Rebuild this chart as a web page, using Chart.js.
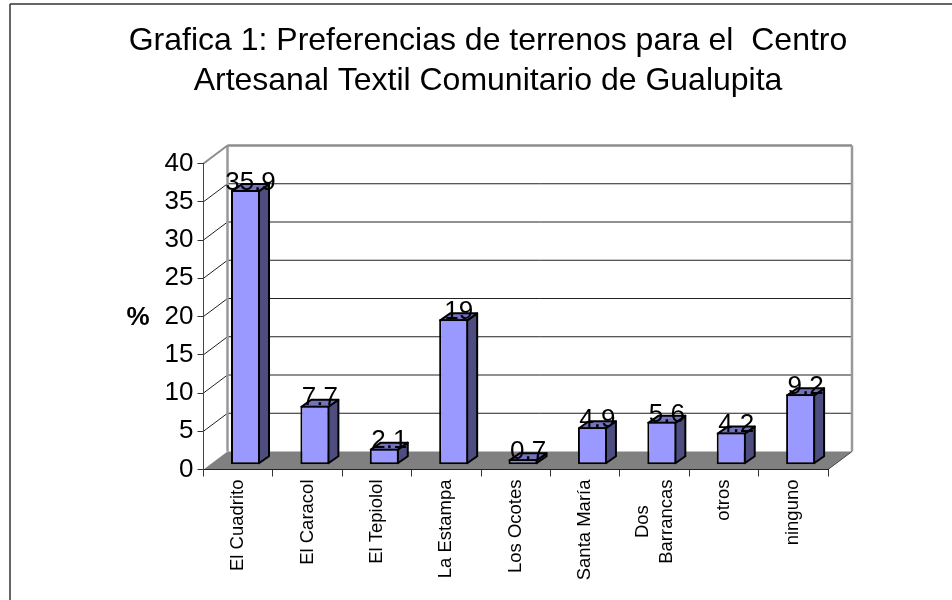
<!DOCTYPE html>
<html>
<head>
<meta charset="utf-8">
<style>
  body { margin: 0; background: #fff; }
  canvas { display: block; }
</style>
<script src="https://cdn.jsdelivr.net/npm/chart.js@4/dist/chart.umd.js"></script>
</head>
<body>
<canvas id="my-chart" width="952" height="600"></canvas>
<script>
'use strict';

/* DATA */
let titleLines = [
  'Grafica 1: Preferencias de terrenos para el  Centro',
  'Artesanal Textil Comunitario de Gualupita',
];
let categories = [
  'El Cuadrito',
  'El Caracol',
  'El Tepiolol',
  'La Estampa',
  'Los Ocotes',
  'Santa María',
  ['Dos', 'Barrancas'],
  'otros',
  'ninguno',
];
let percentages = [35.9, 7.7, 2.1, 19, 0.7, 4.9, 5.6, 4.2, 9.2];
let axisTitle = '%';

/* 3D LOOK */
const FONT = '"Liberation Sans", Arial, sans-serif';
const WALL_DX = 24;
const WALL_DY = -18;
const BAR_DX = 7.3;
const BAR_DY = -4.8;
const BAR_DEPTH_X = 10;
const BAR_DEPTH_Y = -7;

function line(ctx, x1, y1, x2, y2, color, width) {
  ctx.strokeStyle = color;
  ctx.lineWidth = width;
  ctx.beginPath();
  ctx.moveTo(x1, y1);
  ctx.lineTo(x2, y2);
  ctx.stroke();
}

function polygon(ctx, points, fill) {
  ctx.fillStyle = fill;
  ctx.strokeStyle = '#000000';
  ctx.lineWidth = 2;
  ctx.lineJoin = 'round';
  ctx.beginPath();
  points.forEach((p, i) => (i ? ctx.lineTo(p[0], p[1]) : ctx.moveTo(p[0], p[1])));
  ctx.closePath();
  ctx.fill();
  ctx.stroke();
}

let wallsPlugin = {
  id: 'walls',
  beforeDraw(chart) {
    let ctx = chart.ctx;
    let { left, right, top, bottom } = chart.chartArea;
    let yScale = chart.scales.y;
    ctx.save();

    // outer frame, only left and top show in the picture
    line(ctx, 10, 600, 10, 4, '#333333', 1.5);
    line(ctx, 10, 4, 952, 4, '#333333', 1.5);

    // back wall grid lines and slants on the side wall
    yScale.ticks.forEach((tick) => {
      let y = yScale.getPixelForValue(tick.value);
      if (tick.value > 0 && tick.value < 40) {
        line(ctx, left, y, left + WALL_DX, y + WALL_DY, '#222222', 1);
        line(ctx, left + WALL_DX, y + WALL_DY, right + WALL_DX, y + WALL_DY, '#222222', 1);
      }
    });

    // floor
    ctx.fillStyle = '#808080';
    ctx.beginPath();
    ctx.moveTo(left, bottom);
    ctx.lineTo(right, bottom);
    ctx.lineTo(right + WALL_DX, bottom + WALL_DY);
    ctx.lineTo(left + WALL_DX, bottom + WALL_DY);
    ctx.closePath();
    ctx.fill();

    // wall outline
    line(ctx, left + WALL_DX, bottom + WALL_DY, left + WALL_DX, top + WALL_DY, '#999999', 2.5);
    line(ctx, left, top, left + WALL_DX, top + WALL_DY, '#8c8c8c', 2);
    line(ctx, left + WALL_DX, top + WALL_DY, right + WALL_DX, top + WALL_DY, '#8c8c8c', 2.5);
    line(ctx, right + WALL_DX, top + WALL_DY, right + WALL_DX, bottom + WALL_DY, '#999999', 2.5);
    line(ctx, right, bottom, right + WALL_DX, bottom + WALL_DY, '#444444', 1);

    // title, the built-in one gets squeezed to the plot width
    ctx.fillStyle = '#000000';
    ctx.font = '32px ' + FONT;
    ctx.textAlign = 'center';
    ctx.textBaseline = 'middle';
    titleLines.forEach((text, i) => ctx.fillText(text, 488, 41 + i * 40));
    ctx.restore();
  },
  beforeDatasetsDraw(chart) {
    let ctx = chart.ctx;
    ctx.save();
    ctx.translate(BAR_DX, BAR_DY);
    chart.getDatasetMeta(0).data.forEach((bar) => {
      let { x, y, base, width } = bar.getProps(['x', 'y', 'base', 'width'], true);
      let l = x - width / 2 + 1;
      let r = x + width / 2 - 1;
      let t = y + 1;
      let b = base - 1;
      polygon(ctx, [[r, t], [r + BAR_DEPTH_X, t + BAR_DEPTH_Y], [r + BAR_DEPTH_X, b + BAR_DEPTH_Y], [r, b]], '#4d4d80');
      polygon(ctx, [[l, t], [l + BAR_DEPTH_X, t + BAR_DEPTH_Y], [r + BAR_DEPTH_X, t + BAR_DEPTH_Y], [r, t]], '#7373bf');
    });
    // front faces are drawn by the library right after this, shifted too
  },
  afterDatasetsDraw(chart) {
    let ctx = chart.ctx;
    ctx.restore();
    ctx.save();

    // value labels
    ctx.fillStyle = '#000000';
    ctx.font = '26px ' + FONT;
    ctx.textAlign = 'center';
    ctx.textBaseline = 'middle';
    chart.getDatasetMeta(0).data.forEach((bar, i) => {
      ctx.fillText(String(percentages[i]), bar.x + BAR_DX + 5, bar.y + BAR_DY + BAR_DEPTH_Y - 0.5);
    });

    // category labels, read bottom to top with the block top aligned
    let xScale = chart.scales.x;
    let labelTop = chart.chartArea.bottom + 10;
    ctx.font = '18.5px ' + FONT;
    ctx.textAlign = 'right';
    categories.forEach((label, i) => {
      let lines = [].concat(label);
      let longest = Math.max(...lines.map((s) => ctx.measureText(s).width));
      lines.forEach((s, j) => {
        let offset = (j - (lines.length - 1) / 2) * 24;
        ctx.save();
        ctx.translate(xScale.getPixelForTick(i) + offset, labelTop);
        ctx.rotate(-Math.PI / 2);
        ctx.fillText(s, -(longest - ctx.measureText(s).width) / 2, 0);
        ctx.restore();
      });
    });

    // axis title stays upright
    ctx.font = 'bold 26px ' + FONT;
    ctx.textAlign = 'center';
    ctx.fillText(axisTitle, 138, 318);
    ctx.restore();
  },
};

/* CHART */
function renderChart() {
  new Chart(document.getElementById('my-chart').getContext('2d'), {
    type: 'bar',
    data: {
      labels: categories,
      datasets: [
        {
          data: percentages,
          backgroundColor: '#9999ff',
          borderColor: '#000000',
          borderWidth: 2,
          borderSkipped: false,
          barPercentage: 0.418,
          categoryPercentage: 1,
        },
      ],
    },
    options: {
      responsive: false,
      animation: false,
      layout: {
        padding: { left: 0, right: 124, top: 163.5, bottom: 0 },
      },
      plugins: {
        legend: { display: false },
        tooltip: { enabled: false },
      },
      scales: {
        x: {
          afterFit(scale) {
            scale.height = 130.5;
          },
          border: { color: '#222222', width: 1 },
          grid: { offset: true, drawOnChartArea: false, tickLength: 7, color: '#333333' },
          ticks: { display: false },
        },
        y: {
          min: 0,
          max: 40,
          afterFit(scale) {
            scale.width = 203.5;
          },
          border: { color: '#444444', width: 1 },
          grid: { drawOnChartArea: false, tickLength: 6, color: '#333333' },
          ticks: {
            stepSize: 5,
            padding: 4,
            color: '#000000',
            font: { family: FONT, size: 26 },
          },
        },
      },
    },
    plugins: [wallsPlugin],
  });
}
renderChart();
</script>
</body>
</html>
